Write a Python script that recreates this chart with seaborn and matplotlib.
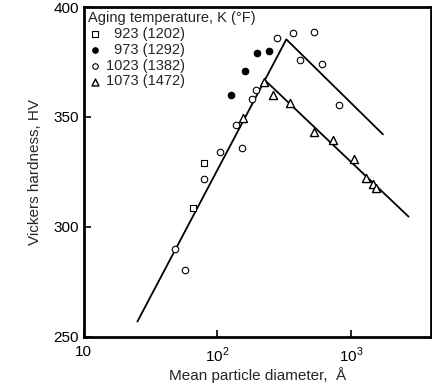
import matplotlib
matplotlib.use("Agg")
import matplotlib.pyplot as plt
import seaborn as sns
import numpy as np
import pandas as pd

# ---- data ----
d923 = [80, 66]
h923 = [329.2, 308.5]

d973 = [127, 161, 199, 245]
h973 = [360.0, 370.9, 378.9, 380.1]

d1023 = [48, 57, 79, 105, 139, 153, 181, 196, 279, 369, 532, 416, 604, 813]
h1023 = [289.9, 280.5, 321.7, 334.2, 346.4, 336.0, 358.0, 362.3, 385.8, 388.0, 388.5, 375.9, 374.0, 355.6]

d1073 = [156, 222, 262, 351, 532, 734, 1052, 1294, 1459, 1556]
h1073 = [349.4, 366.0, 360.0, 356.5, 343.3, 339.5, 330.8, 322.1, 319.5, 317.6]

line1_d = [25.2, 329, 1742]
line1_h = [257.0, 385.3, 342.1]
line2_d = [227, 2710]
line2_h = [366.8, 304.7]

labels = ["\u2007923 (1202)", "\u2007973 (1292)", "1023 (1382)", "1073 (1472)"]
legend_title = "Aging temperature, K (°F)"
yticks = [250, 300, 350, 400]
xticks = [10, 100, 1000]

sns.set_style("ticks")
plt.rcParams['font.family'] = ['Liberation Sans', 'DejaVu Sans']
plt.rcParams['mathtext.fontset'] = 'custom'
plt.rcParams['mathtext.rm'] = 'Liberation Sans'

fig = plt.figure(figsize=(4.32, 3.90), dpi=100)
ax = fig.add_axes([0.194, 0.136, 0.804, 0.846])

sns.lineplot(x=line1_d, y=line1_h, ax=ax, color="black", lw=1.3, sort=False, estimator=None)
sns.lineplot(x=line2_d, y=line2_h, ax=ax, color="black", lw=1.3, sort=False, estimator=None)

sns.scatterplot(x=d923, y=h923, ax=ax, marker="s", s=18, facecolor="white",
                edgecolor="black", linewidth=0.8, label=labels[0], zorder=3)
sns.scatterplot(x=d973, y=h973, ax=ax, marker="o", s=22, color="black",
                edgecolor="black", linewidth=0.8, label=labels[1], zorder=3)
sns.scatterplot(x=d1023, y=h1023, ax=ax, marker="o", s=22, facecolor="white",
                edgecolor="black", linewidth=0.8, label=labels[2], zorder=3)
sns.scatterplot(x=d1073, y=h1073, ax=ax, marker="^", s=34, facecolor="white",
                edgecolor="black", linewidth=1.0, label=labels[3], zorder=3)

ax.set_xscale("log")
ax.set_xlim(10, 4000)
ax.set_ylim(250, 400)
ax.set_yticks(yticks)
ax.set_xticks(xticks)
ax.set_xticklabels(["10", "$10^2$", "$10^3$"])
ax.minorticks_off()
ax.tick_params(direction="in", length=5, width=1.2, labelsize=11, colors="black")
ax.tick_params(axis="x", pad=6)
for sp in ax.spines.values():
    sp.set_linewidth(2.0)
    sp.set_color("black")

ax.set_xlabel("Mean particle diameter,  Å", fontsize=11, labelpad=2)
ax.set_ylabel("Vickers hardness, HV", fontsize=11, labelpad=8)

leg = ax.legend(title=legend_title, loc="upper left", frameon=False, fontsize=10.5,
                title_fontsize=10.5, handletextpad=0.2, labelspacing=0.12,
                borderaxespad=0.1, handlelength=1.0, borderpad=0.2, markerscale=0.85)
leg._legend_box.align = "left"

fig.savefig("out.png", dpi=100)
